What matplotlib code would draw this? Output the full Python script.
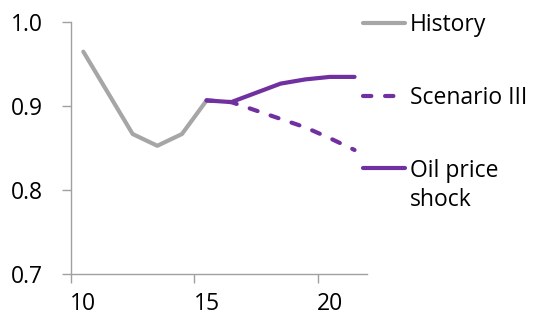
import numpy as np
import matplotlib.pyplot as plt
from matplotlib.legend_handler import HandlerLine2D

plt.rcParams['font.family'] = ['Open Sans', 'DejaVu Sans']

# period index (categories) and series values
periods = np.arange(10, 22)
history = [0.965, 0.916, 0.867, 0.853, 0.867, 0.907]
scenario_iii = [0.907, 0.905, 0.895, 0.885, 0.875, 0.862, 0.848]
oil_shock = [0.907, 0.905, 0.916, 0.927, 0.932, 0.935, 0.935]
xtick_labels = ['10', '15', '20']
ytick_labels = ['0.7', '0.8', '0.9', '1.0']

grey = '#A6A6A6'
purple = '#7030A0'
axis_col = '#A0A0A0'
fs = 16.5


class FirstLineHandler(HandlerLine2D):
    # put the legend line next to the first line of a two-line label
    def __init__(self, shift, **kw):
        super().__init__(**kw)
        self.shift = shift

    def create_artists(self, legend, orig_handle, xdescent, ydescent,
                       width, height, fontsize, trans):
        arts = super().create_artists(legend, orig_handle, xdescent, ydescent,
                                      width, height, fontsize, trans)
        for a in arts:
            a.set_ydata(np.asarray(a.get_ydata()) + self.shift)
        return arts


fig = plt.figure(figsize=(5.34, 3.18), dpi=100)
ax = fig.add_axes([0.133, 0.1374, 0.554, 0.7925])

ax.plot(periods[:6], history, color=grey, lw=3, solid_capstyle='round', label='History')
ax.plot(periods[5:], scenario_iii, color=purple, lw=3, ls=(0, (2.0, 3.3)),
        dash_capstyle='round', label='Scenario III')
oil_line, = ax.plot(periods[5:], oil_shock, color=purple, lw=3, solid_capstyle='round',
                    label='Oil price\nshock')

# excel-like category axis: tick marks between categories, labels on categories
ax.set_xlim(periods[0] - 0.5, periods[-1] + 0.5)
ax.set_xticks([9.5, 14.5, 19.5])
ax.set_xticklabels([])
ax.set_xticks([10, 15, 20], minor=True)
ax.set_xticklabels(xtick_labels, minor=True)
ax.set_ylim(0.7, 1.0)
ax.set_yticks([0.7, 0.8, 0.9, 1.0])
ax.set_yticklabels(ytick_labels)

for s in ['top', 'right']:
    ax.spines[s].set_visible(False)
for s in ['left', 'bottom']:
    ax.spines[s].set_color(axis_col)
    ax.spines[s].set_linewidth(1)
ax.tick_params(axis='both', which='major', length=6.5, width=1, color=axis_col, labelsize=fs)
ax.tick_params(axis='y', pad=14)
ax.tick_params(axis='x', which='minor', length=0, labelsize=fs, pad=13)

leg = ax.legend(loc='upper left', bbox_to_anchor=(363 / 534, 1 - 13 / 318),
                bbox_transform=fig.transFigure, frameon=False, fontsize=fs,
                handlelength=1.85, handletextpad=0.2, labelspacing=2.13,
                borderaxespad=0, borderpad=0,
                handler_map={oil_line: FirstLineHandler(13)})
for t in leg.get_texts():
    t.set_linespacing(1.3)

fig.savefig('out.png', dpi=100)
